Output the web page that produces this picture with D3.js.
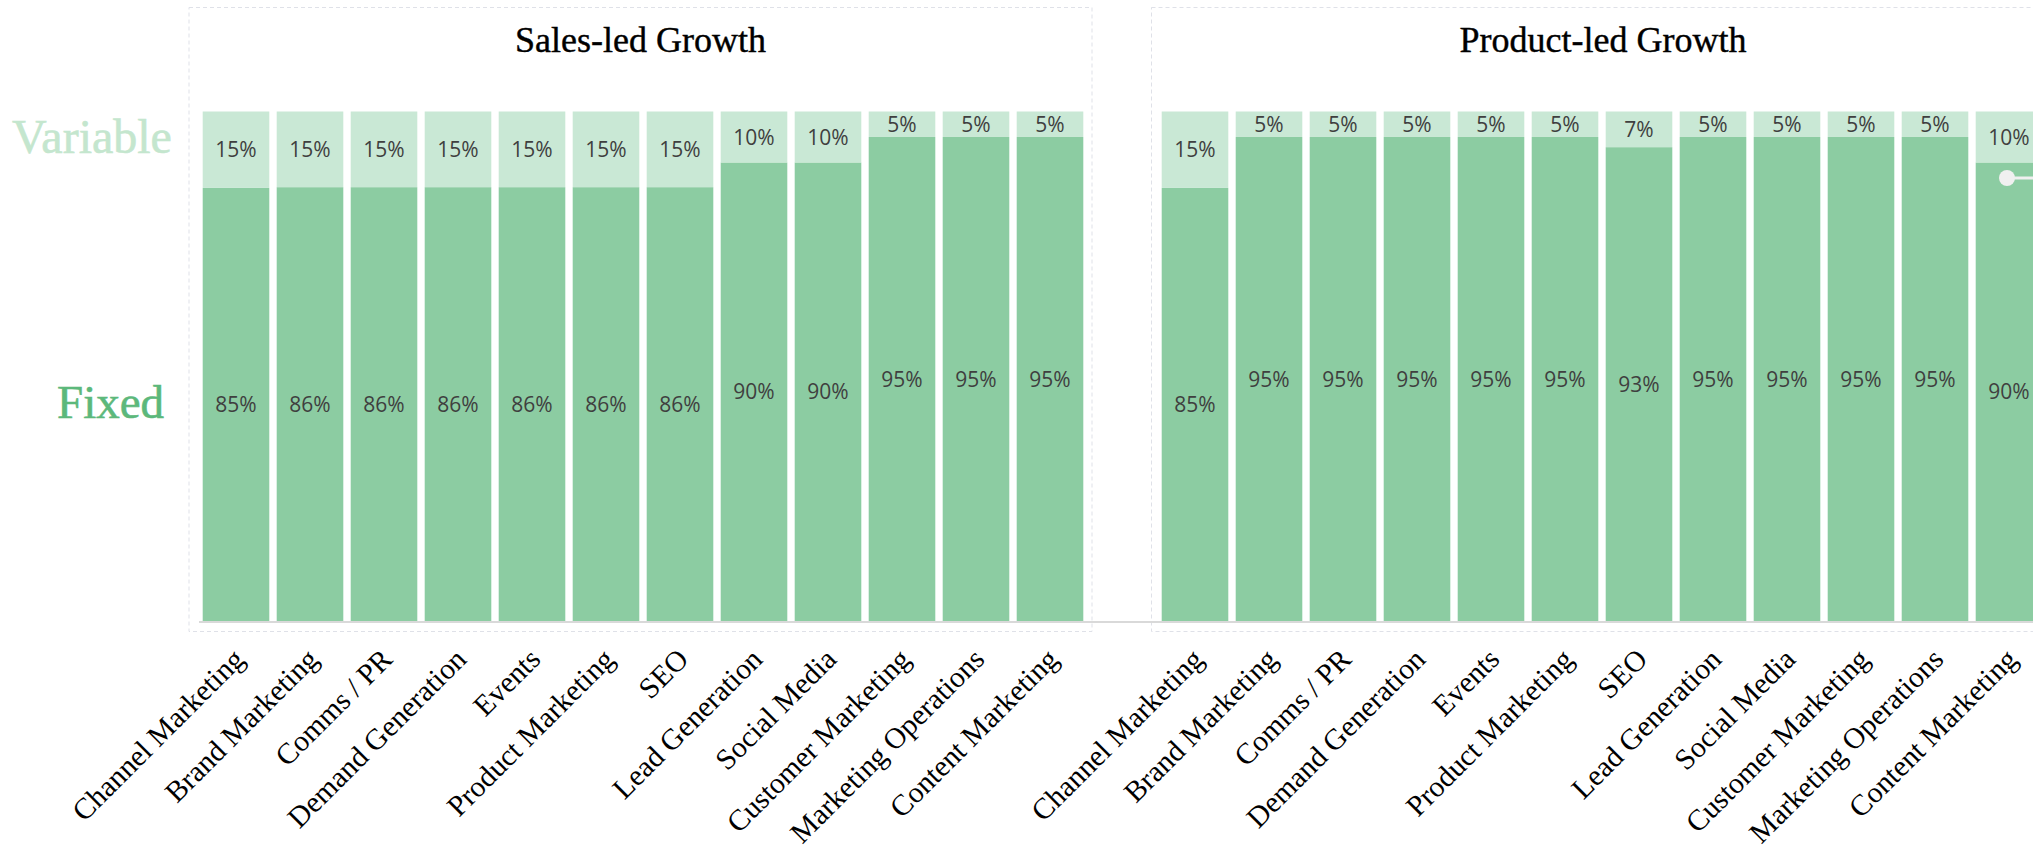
<!DOCTYPE html>
<html>
<head>
<meta charset="utf-8">
<script src="https://cdn.jsdelivr.net/npm/d3@7"></script>
<style>
  html, body { margin: 0; padding: 0; background: #fff; overflow: hidden; }
  svg { display: block; }
</style>
</head>
<body>
<svg id="chart" width="2033" height="849"></svg>
<script>
// Marketing functions, in display order (shared by both panels)
const categories = [
  "Channel Marketing", "Brand Marketing", "Comms / PR", "Demand Generation",
  "Events", "Product Marketing", "SEO", "Lead Generation", "Social Media",
  "Customer Marketing", "Marketing Operations", "Content Marketing"
];
const panelTitles = ["Sales-led Growth", "Product-led Growth"];
const segmentKeys = ["Fixed", "Variable"];

// Share of budget that is fixed vs variable (%)
const salesFixed      = [85, 86, 86, 86, 86, 86, 86, 90, 90, 95, 95, 95];
const salesVariable   = [15, 15, 15, 15, 15, 15, 15, 10, 10,  5,  5,  5];
const productFixed    = [85, 95, 95, 95, 95, 95, 93, 95, 95, 95, 95, 90];
const productVariable = [15,  5,  5,  5,  5,  5,  7,  5,  5,  5,  5, 10];

const colors = { Fixed: "#8ccca2", Variable: "#c9e8d5" };

const svg = d3.select("#chart");

// Layout
const barTop = 111.5, barBottom = 621;
const panelLayout = [
  { frameX: 189, bandStart: 202.7 },
  { frameX: 1151.5, bandStart: 1161.7 }
];
const frameW = 903, frameTop = 7.5, frameBottom = 631.5;
const bandWidth = 880.6;

const y = d3.scaleLinear().domain([0, 1]).range([barBottom, barTop]);

function rowsFor(fixed, variable) {
  return categories.map((c, i) => ({ category: c, Fixed: fixed[i], Variable: variable[i] }));
}
const panelData = [rowsFor(salesFixed, salesVariable), rowsFor(productFixed, productVariable)];

const stack = d3.stack().keys(segmentKeys).offset(d3.stackOffsetExpand);

// Panel frames (dashed)
panelLayout.forEach(p => {
  svg.append("rect")
    .attr("x", p.frameX).attr("y", frameTop)
    .attr("width", frameW).attr("height", frameBottom - frameTop)
    .attr("fill", "none")
    .attr("stroke", "#dfe1e8")
    .attr("stroke-width", 1)
    .attr("stroke-dasharray", "4,3");
});

panelData.forEach((rows, pi) => {
  const p = panelLayout[pi];
  const x = d3.scaleBand()
    .domain(categories)
    .range([p.bandStart, p.bandStart + bandWidth])
    .paddingInner(0.1)
    .paddingOuter(0);

  const g = svg.append("g");
  const series = stack(rows);

  series.forEach(s => {
    const key = s.key;
    const grp = g.append("g").attr("fill", colors[key]);
    grp.selectAll("rect")
      .data(s)
      .join("rect")
      .attr("x", d => x(d.data.category))
      .attr("y", d => y(d[1]))
      .attr("width", x.bandwidth())
      .attr("height", d => y(d[0]) - y(d[1]));

    g.append("g").selectAll("text")
      .data(s)
      .join("text")
      .attr("x", d => x(d.data.category) + x.bandwidth() / 2)
      .attr("y", d => (y(d[0]) + y(d[1])) / 2)
      .attr("dy", "0.36em")
      .attr("text-anchor", "middle")
      .attr("font-family", "'Open Sans', sans-serif")
      .attr("font-size", 21)
      .attr("fill", "#3f3f3f")
      .text(d => d.data[key] + "%");
  });

  // Panel title
  svg.append("text")
    .attr("x", p.frameX + frameW / 2)
    .attr("y", 51.5)
    .attr("text-anchor", "middle")
    .attr("font-family", "'Liberation Serif', serif")
    .attr("font-size", 36)
    .attr("fill", "#000")
    .attr("stroke", "#000")
    .attr("stroke-width", 0.4)
    .text(panelTitles[pi]);

  // Category axis
  const axis = d3.axisBottom(x).tickSize(0).tickPadding(0);
  const ax = svg.append("g")
    .attr("transform", `translate(0,${barBottom})`)
    .call(axis);
  ax.select(".domain").remove();
  ax.selectAll(".tick text")
    .attr("font-family", "'Liberation Serif', serif")
    .attr("font-size", 29.5)
    .attr("fill", "#000")
    .attr("text-anchor", "end")
    .attr("dy", null)
    .attr("y", 0)
    .attr("transform", "translate(10,40) rotate(-45)");
});

// Baseline running under both panels
svg.append("line")
  .attr("x1", 199).attr("x2", 2033)
  .attr("y1", barBottom + 1).attr("y2", barBottom + 1)
  .attr("stroke", "#d9d9d9")
  .attr("stroke-width", 2);

// Segment captions
svg.append("text")
  .attr("x", 12).attr("y", 153)
  .attr("font-family", "'Liberation Serif', serif")
  .attr("font-size", 48)
  .attr("fill", "#c4e6ce")
  .attr("stroke", "#c4e6ce")
  .attr("stroke-width", 0.6)
  .text("Variable");
svg.append("text")
  .attr("x", 57).attr("y", 418)
  .attr("font-family", "'Liberation Serif', serif")
  .attr("font-size", 47)
  .attr("fill", "#5cb87b")
  .attr("stroke", "#5cb87b")
  .attr("stroke-width", 0.6)
  .text("Fixed");

// Slider handle on the last column
svg.append("line")
  .attr("x1", 2007).attr("x2", 2033)
  .attr("y1", 178).attr("y2", 178)
  .attr("stroke", "#f0f0f0").attr("stroke-width", 3);
svg.append("circle")
  .attr("cx", 2007).attr("cy", 178).attr("r", 8)
  .attr("fill", "#f0f0f0");
</script>
</body>
</html>
